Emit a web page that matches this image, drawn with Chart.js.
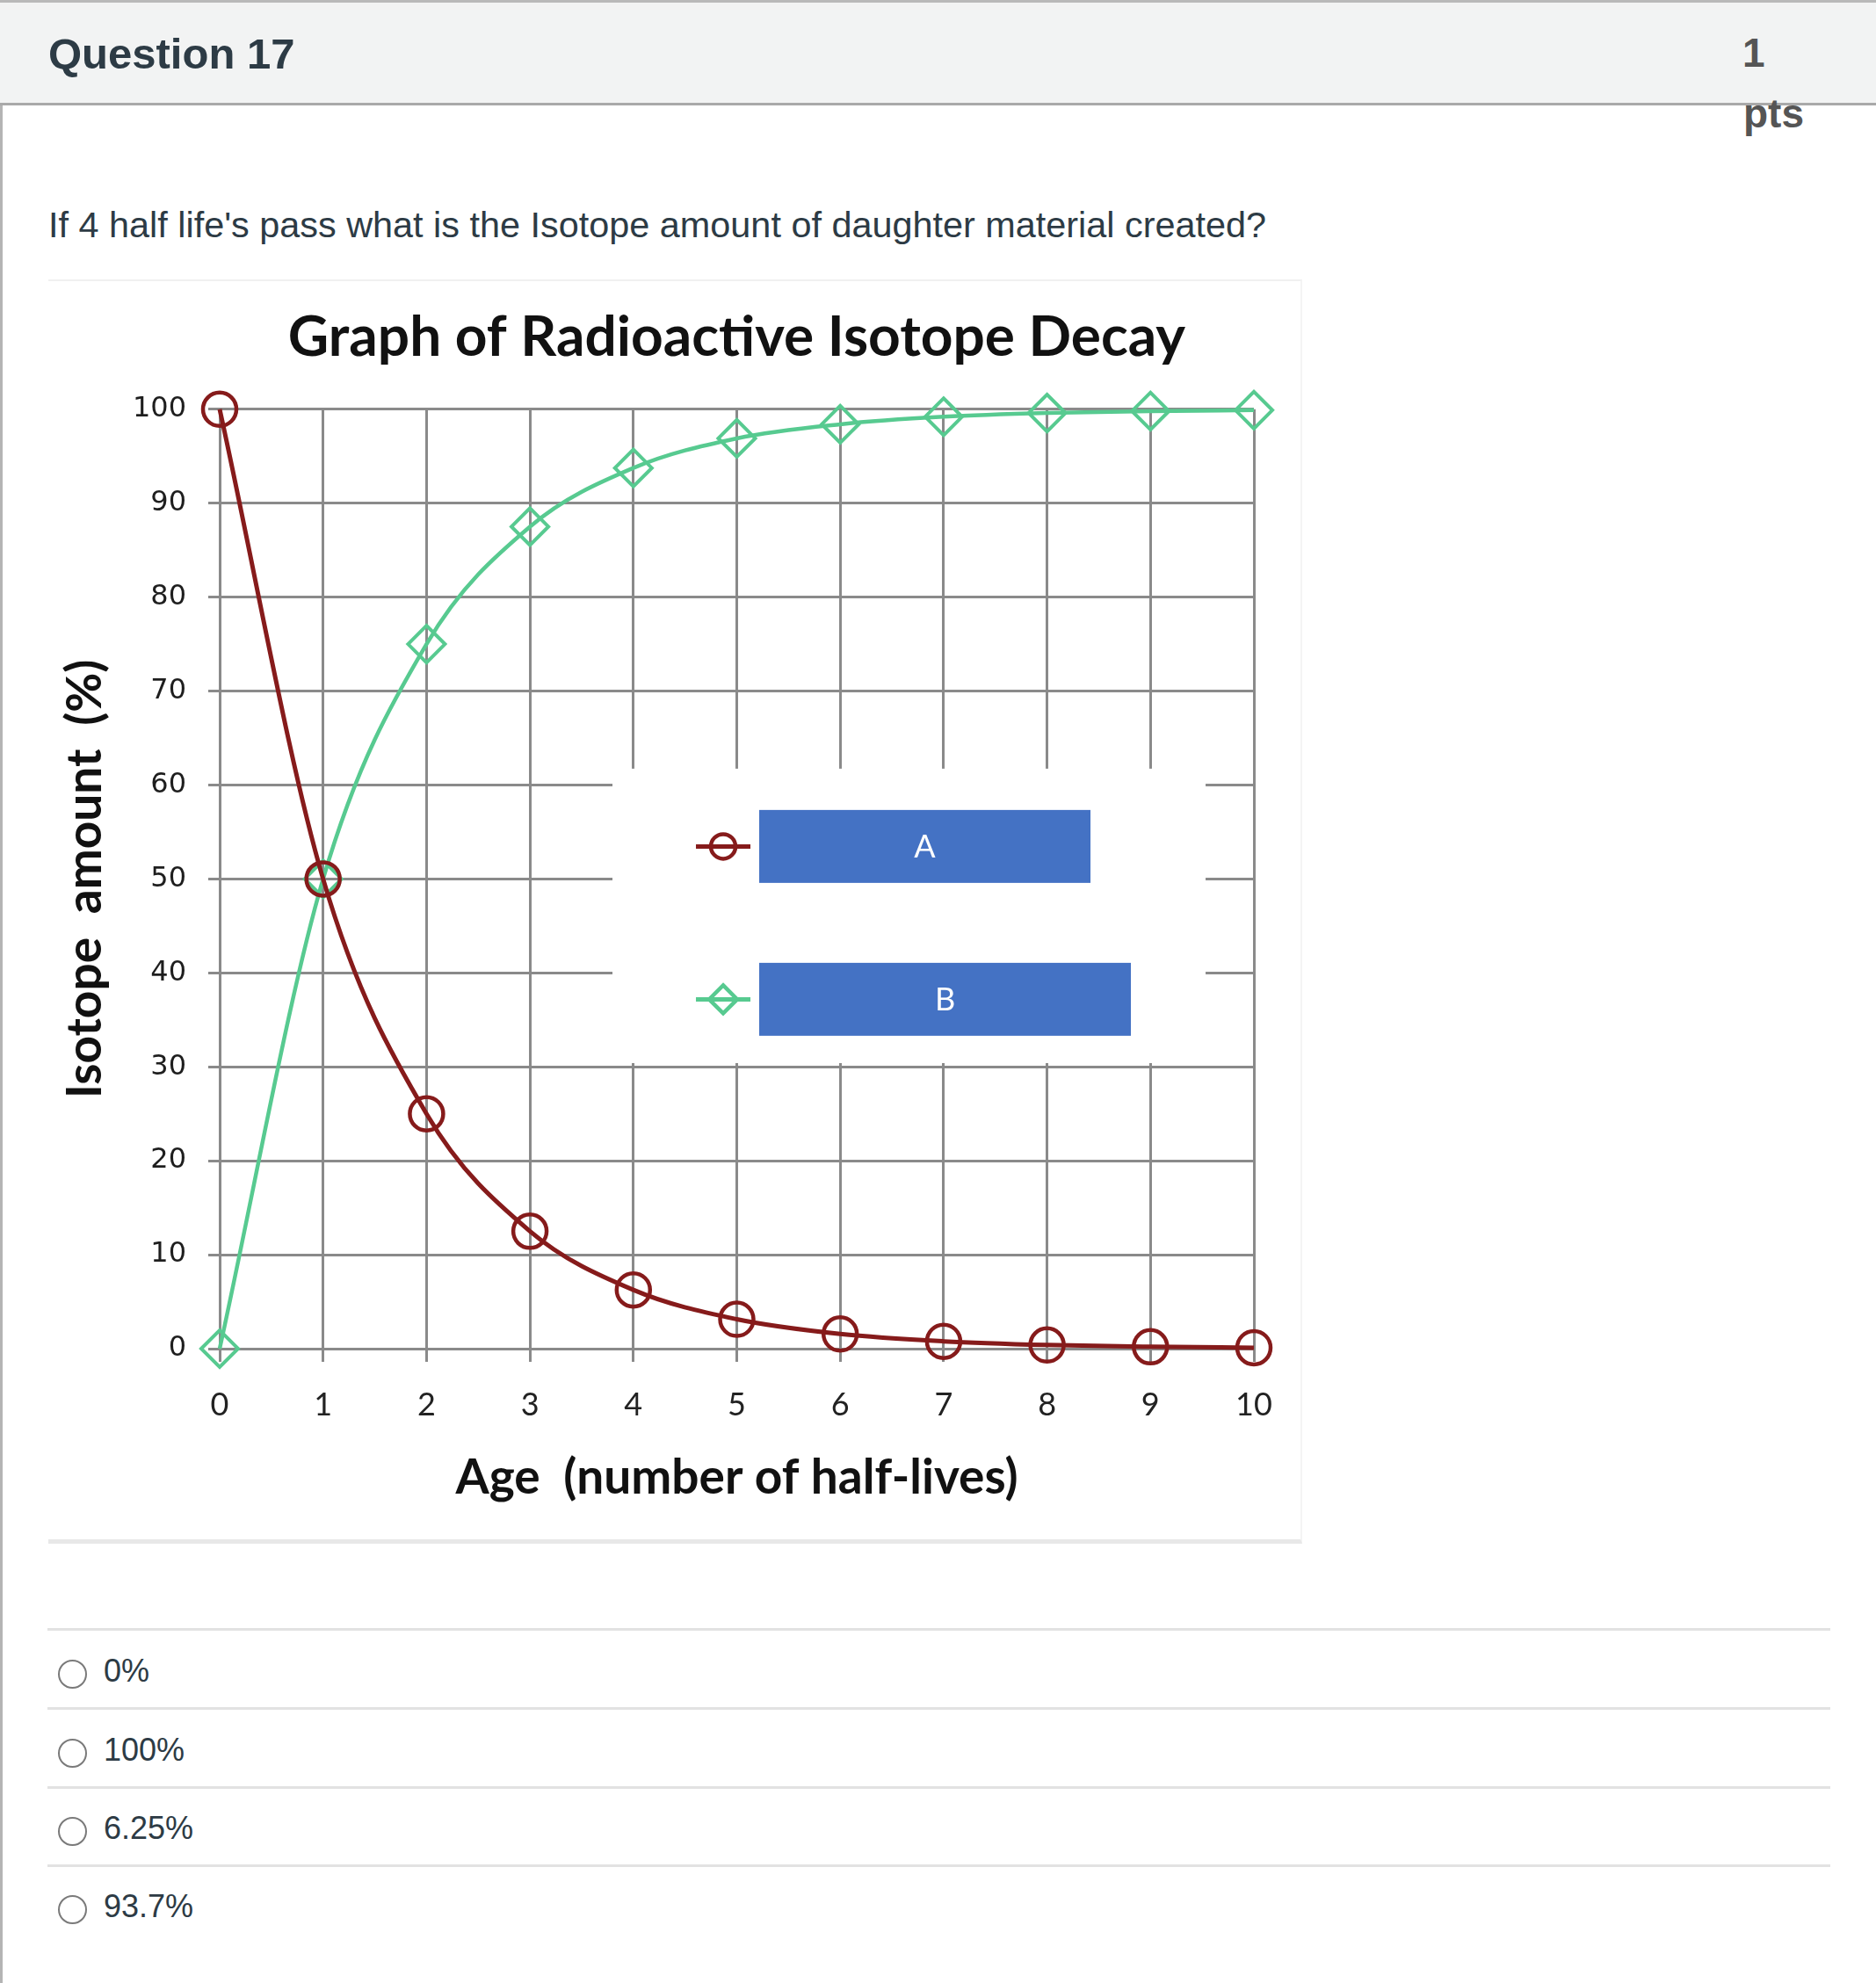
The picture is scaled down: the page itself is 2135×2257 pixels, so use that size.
<!DOCTYPE html>
<html>
<head>
<meta charset="utf-8">
<script src="https://cdn.jsdelivr.net/npm/chart.js@4.4.1/dist/chart.umd.min.js"></script>
<style>
  html, body { margin: 0; padding: 0; background: #fff; }
  body {
    width: 2135px; height: 2257px; position: relative; overflow: hidden;
    font-family: "Liberation Sans", Arial, Helvetica, sans-serif; color: #2d3b45;
  }
  .abs { position: absolute; white-space: nowrap; line-height: 1; }
  .leftline { position: absolute; left: 0; top: 0; width: 3px; height: 2257px; background: #b4b4b4; }
  .header {
    position: absolute; left: 0; top: 0; width: 2135px; height: 114px;
    background: #f2f3f3; border-top: 3px solid #b9b9b9; border-bottom: 3px solid #a9a9a9;
  }
  .qname { left: 55px; top: 37px; font-size: 49px; font-weight: bold; color: #2d3b45; }
  .pts { font-size: 46px; font-weight: bold; color: #555; }
  .qtext { left: 55px; top: 236px; font-size: 41.4px; color: #2d3b45; }
  .chartbox {
    position: absolute; left: 55px; top: 318px; width: 1425px; height: 1432px;
    border-top: 2px solid #f0f0f0; border-right: 2px solid #f4f4f4; border-bottom: 5px solid #e8e8e8;
    background: #fff;
  }
  canvas { display: block; }
  .sep { position: absolute; left: 54px; width: 2029px; height: 3px; background: #e2e2e2; }
  .radio {
    position: absolute; left: 66px; width: 29px; height: 29px; border: 2.5px solid #7a7a7a; border-radius: 50%;
  }
  .opt { left: 118px; font-size: 36px; color: #2d3b45; }
</style>
</head>
<body>
<div class="leftline"></div>
<div class="header"></div>
<div class="abs qname">Question 17</div>
<div class="abs pts" style="left:1983px; top:37px;">1</div>
<div class="abs pts" style="left:1984px; top:106px;">pts</div>
<div class="abs qtext">If 4 half life's pass what is the Isotope amount of daughter material created?</div>

<div class="chartbox"><canvas id="c" width="1425" height="1432"></canvas></div>

<div class="sep" style="top:1853px"></div>
<div class="sep" style="top:1943px"></div>
<div class="sep" style="top:2033px"></div>
<div class="sep" style="top:2122px"></div>
<div class="radio" style="top:1889px"></div>
<div class="radio" style="top:1979px"></div>
<div class="radio" style="top:2068px"></div>
<div class="radio" style="top:2157px"></div>
<div class="abs opt" style="top:1884px">0%</div>
<div class="abs opt" style="top:1974px">100%</div>
<div class="abs opt" style="top:2063px">6.25%</div>
<div class="abs opt" style="top:2152px">93.7%</div>

<script>
// values
const ages = [0, 1, 2, 3, 4, 5, 6, 7, 8, 9, 10];
const seriesA = [100, 50, 25, 12.5, 6.25, 3.13, 1.56, 0.78, 0.39, 0.2, 0.1];
const seriesB = [0, 50, 75, 87.5, 93.75, 96.9, 98.4, 99.2, 99.6, 99.8, 99.9];
const xTickValues = [0, 1, 2, 3, 4, 5, 6, 7, 8, 9, 10];
const yTickValues = [0, 10, 20, 30, 40, 50, 60, 70, 80, 90, 100];
const legendNames = ['A', 'B'];

const chartTitle = 'Graph of Radioactive Isotope Decay';
const xTitle = 'Age  (number of half-lives)';
const yTitle = 'Isotope  amount  (%)';

const RED = '#861b1b';
const GREEN = '#57ca90';
const GRID = '#8a8a8a';

// white legend panel with blue label boxes, drawn over the grid
const boxLegend = {
  id: 'boxLegend',
  beforeDatasetsDraw(chart) {
    const { ctx, chartArea: a } = chart;
    const w = a.right - a.left, h = a.bottom - a.top;
    const bx = a.left + 0.3798 * w, by = a.top + 0.3826 * h;
    const bw = 0.5735 * w, bh = 0.3134 * h;
    ctx.save();
    ctx.fillStyle = '#fff';
    ctx.fillRect(bx, by, bw, bh);

    const rows = [
      { top: 47, width: 377, color: RED, style: 'circle' },
      { top: 221, width: 423, color: GREEN, style: 'diamond' }
    ];
    rows.forEach((r, i) => {
      const boxX = bx + 167, boxY = by + r.top, boxH = 83;
      const cy = boxY + boxH / 2, cx = bx + 126;
      ctx.fillStyle = '#4472c4';
      ctx.fillRect(boxX, boxY, r.width, boxH);
      ctx.fillStyle = '#fff';
      ctx.font = '36px Lato';
      ctx.textAlign = 'center';
      ctx.textBaseline = 'middle';
      ctx.fillText(legendNames[i], boxX + r.width / 2, cy + 1);

      ctx.strokeStyle = r.color;
      ctx.lineWidth = 5;
      ctx.beginPath();
      ctx.moveTo(cx - 31, cy); ctx.lineTo(cx + 31, cy);
      ctx.stroke();
      ctx.lineWidth = 4.5;
      ctx.beginPath();
      if (r.style === 'circle') {
        ctx.arc(cx, cy, 14, 0, Math.PI * 2);
      } else {
        ctx.moveTo(cx, cy - 16); ctx.lineTo(cx + 16, cy);
        ctx.lineTo(cx, cy + 16); ctx.lineTo(cx - 16, cy); ctx.closePath();
      }
      ctx.stroke();
    });
    ctx.restore();
  }
};

new Chart(document.getElementById('c'), {
  type: 'line',
  data: {
    datasets: [
      {
        label: legendNames[0],
        data: ages.map((x, i) => ({ x: x, y: seriesA[i] })),
        borderColor: RED, borderWidth: 5,
        pointStyle: 'circle', pointRadius: 19, pointBorderWidth: 4.5,
        pointBorderColor: RED, pointBackgroundColor: 'rgba(0,0,0,0)',
        cubicInterpolationMode: 'monotone', clip: false
      },
      {
        label: legendNames[1],
        data: ages.map((x, i) => ({ x: x, y: seriesB[i] })),
        borderColor: GREEN, borderWidth: 4.5,
        pointStyle: 'rectRot', pointRadius: 21, pointBorderWidth: 4,
        pointBorderColor: GREEN, pointBackgroundColor: 'rgba(0,0,0,0)',
        cubicInterpolationMode: 'monotone', clip: false
      }
    ]
  },
  options: {
    responsive: false,
    animation: false,
    devicePixelRatio: 1,
    layout: { padding: { left: 0, right: 53, top: 0, bottom: 0 } },
    plugins: {
      legend: { display: false },
      tooltip: { enabled: false },
      title: {
        display: true, text: chartTitle, fullSize: false, color: '#111',
        font: { family: 'Lato', size: 64, weight: 'bold' },
        padding: { top: 26, bottom: 43 }
      }
    },
    scales: {
      x: {
        type: 'linear', min: 0, max: 10,
        afterBuildTicks: s => { s.ticks = xTickValues.map(v => ({ value: v })); },
        afterFit: s => { s.height = 217; },
        grid: { color: GRID, lineWidth: 3, tickLength: 15 },
        border: { color: GRID, width: 3 },
        ticks: { color: '#222', font: { family: 'Lato', size: 36 }, padding: 28, maxRotation: 0 },
        title: {
          display: true, text: xTitle, color: '#111',
          font: { family: 'Lato', size: 55, weight: 'bold' },
          padding: { top: 0, bottom: 37 }
        }
      },
      y: {
        min: 0, max: 100,
        afterBuildTicks: s => { s.ticks = yTickValues.map(v => ({ value: v })); },
        afterFit: s => { s.width = 195; },
        grid: { color: GRID, lineWidth: 3, tickLength: 13 },
        border: { color: GRID, width: 3 },
        ticks: { color: '#1e1e1e', font: { family: 'DejaVu Sans', size: 32 }, padding: 25 },
        title: {
          display: true, text: yTitle, color: '#111',
          font: { family: 'Lato', size: 55, weight: 'bold' },
          padding: { top: 9, bottom: 0 }
        }
      }
    }
  },
  plugins: [boxLegend]
});
</script>
</body>
</html>
